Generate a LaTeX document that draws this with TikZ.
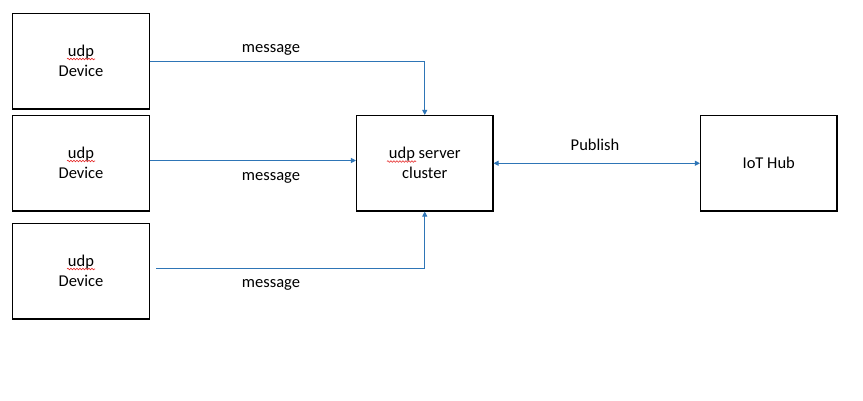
\documentclass[tikz,border=0pt]{standalone}
\usepackage{fontspec}
\setmainfont{Carlito}
\usetikzlibrary{arrows.meta,decorations.pathmorphing}
\definecolor{lineblue}{RGB}{46,117,182}
\definecolor{spellred}{RGB}{230,40,40}
\begin{document}
\begin{tikzpicture}[x=1pt,y=-1pt,
  box/.style={draw=black,line width=1.1pt,minimum width=137pt,minimum height=95.5pt,align=center,inner sep=0pt,font=\fontsize{16.5}{20}\selectfont},
  conn/.style={draw=lineblue,line width=1pt,-{Triangle[length=5pt,width=5pt]}},
  biconn/.style={draw=lineblue,line width=1pt,{Triangle[length=5pt,width=5pt]}-{Triangle[length=5pt,width=5pt]}},
  lbl/.style={font=\fontsize{16.5}{20}\selectfont,inner sep=0pt},
  squiggle/.style={draw=spellred,line width=0.6pt,decorate,decoration={snake,amplitude=0.8pt,segment length=3pt}}]
\useasboundingbox[fill=white] (0,0) rectangle (863,400);
\node[box] (dev1) at (81,61.25) {udp\\Device};
\node[box] (dev2) at (81,163.25) {udp\\Device};
\node[box] (dev3) at (81,271.25) {udp\\Device};
\node[box,minimum width=136.5pt] (srv) at (424.75,163.25) {udp server\\cluster};
\node[box,minimum width=136.5pt] (hub) at (768.75,163.25) {IoT Hub};
\coordinate (start3) at (156,268.5);
\draw[conn] ([yshift=-0.25pt]dev1.east) -| (srv.north);
\draw[conn] ([yshift=2.75pt]dev2.east) -- ([yshift=2.75pt]srv.west);
\draw[conn] (start3) -| (srv.south);
\draw[biconn] (srv.east) -- (hub.west);
\node[lbl] (m1) at (271,50) {message};
\node[lbl] (m2) at (271,178) {message};
\node[lbl] (m3) at (271,285) {message};
\node[lbl] (pub) at (595,144.5) {Publish};
\draw[squiggle] (67,59) -- (95,59);
\draw[squiggle] (67,161) -- (95,161);
\draw[squiggle] (67,269) -- (95,269);
\draw[squiggle] (387,161.5) -- (416,161.5);
\end{tikzpicture}
\end{document}
